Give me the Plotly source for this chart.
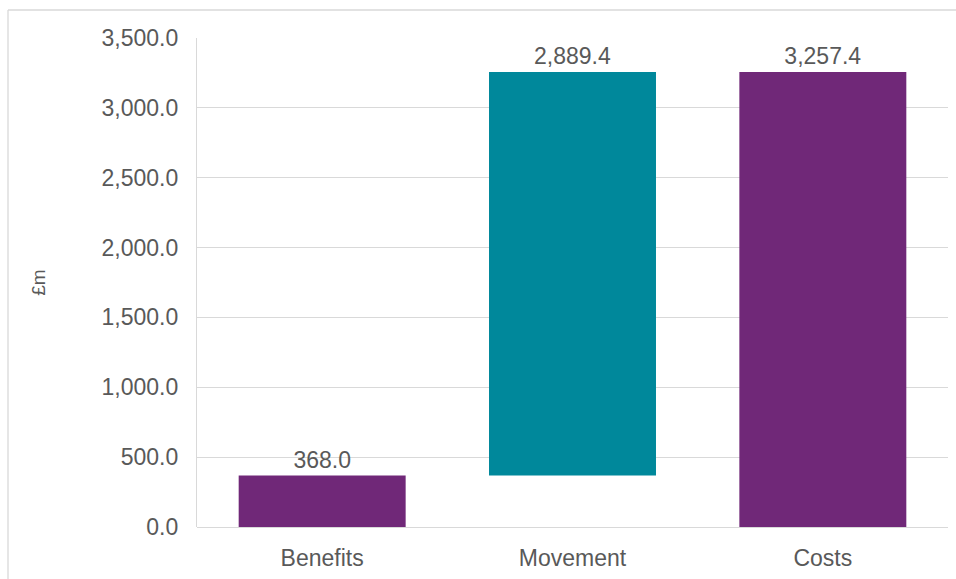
import plotly.graph_objects as go

categories = ["Benefits", "Movement", "Costs"]
values = [368.0, 2889.4, 3257.4]
bases = [0.0, 368.0, 0.0]
colors = ["#702878", "#00889B", "#702878"]
y_ticks = [0, 500, 1000, 1500, 2000, 2500, 3000, 3500]

FONT = "Liberation Sans, Arial, sans-serif"
GREY = "#595959"

fig = go.Figure()
fig.add_trace(go.Bar(
    x=categories, y=values, base=bases,
    marker=dict(color=colors, line=dict(width=0)),
    text=[f"{v:,.1f}" for v in values],
    textposition="outside",
    textfont=dict(family=FONT, size=23, color=GREY),
    cliponaxis=False,
    hoverinfo="skip",
))

W, H = 956, 579
L, R, T, B = 197, 8, 38, 52
pw, ph = W - L - R, H - T - B

fig.update_layout(
    width=W, height=H,
    margin=dict(l=L, r=R, t=T, b=B, pad=0),
    paper_bgcolor="white", plot_bgcolor="white",
    bargap=0.333,
    showlegend=False,
    font=dict(family=FONT, color=GREY),
    xaxis=dict(
        showgrid=False, showline=False, zeroline=False,
        tickfont=dict(family=FONT, size=23, color=GREY),
        ticks="", ticklabelstandoff=15,
    ),
    yaxis=dict(
        range=[0, 3500],
        tickvals=y_ticks,
        tickformat=",.1f",
        tickfont=dict(family=FONT, size=23, color=GREY),
        showgrid=True, gridcolor="#D9D9D9", gridwidth=1.3,
        showline=True, linecolor="#D9D9D9", linewidth=1.3,
        zeroline=True, zerolinecolor="#D9D9D9", zerolinewidth=1.3,
        ticks="", ticklabelstandoff=13,
        title=dict(text="£m", font=dict(family=FONT, size=19, color=GREY), standoff=50),
    ),
)

# outer chart border (top and left edges visible)
x_left = (8 - L) / pw
y_top = 1 + (T - 10) / ph
fig.add_shape(type="line", xref="paper", yref="paper",
              x0=x_left, x1=1 + R / pw, y0=y_top, y1=y_top,
              line=dict(color="#D9D9D9", width=1.3))
fig.add_shape(type="line", xref="paper", yref="paper",
              x0=x_left, x1=x_left, y0=y_top, y1=-B / ph,
              line=dict(color="#D9D9D9", width=1.3))

fig.write_html("out.html")
